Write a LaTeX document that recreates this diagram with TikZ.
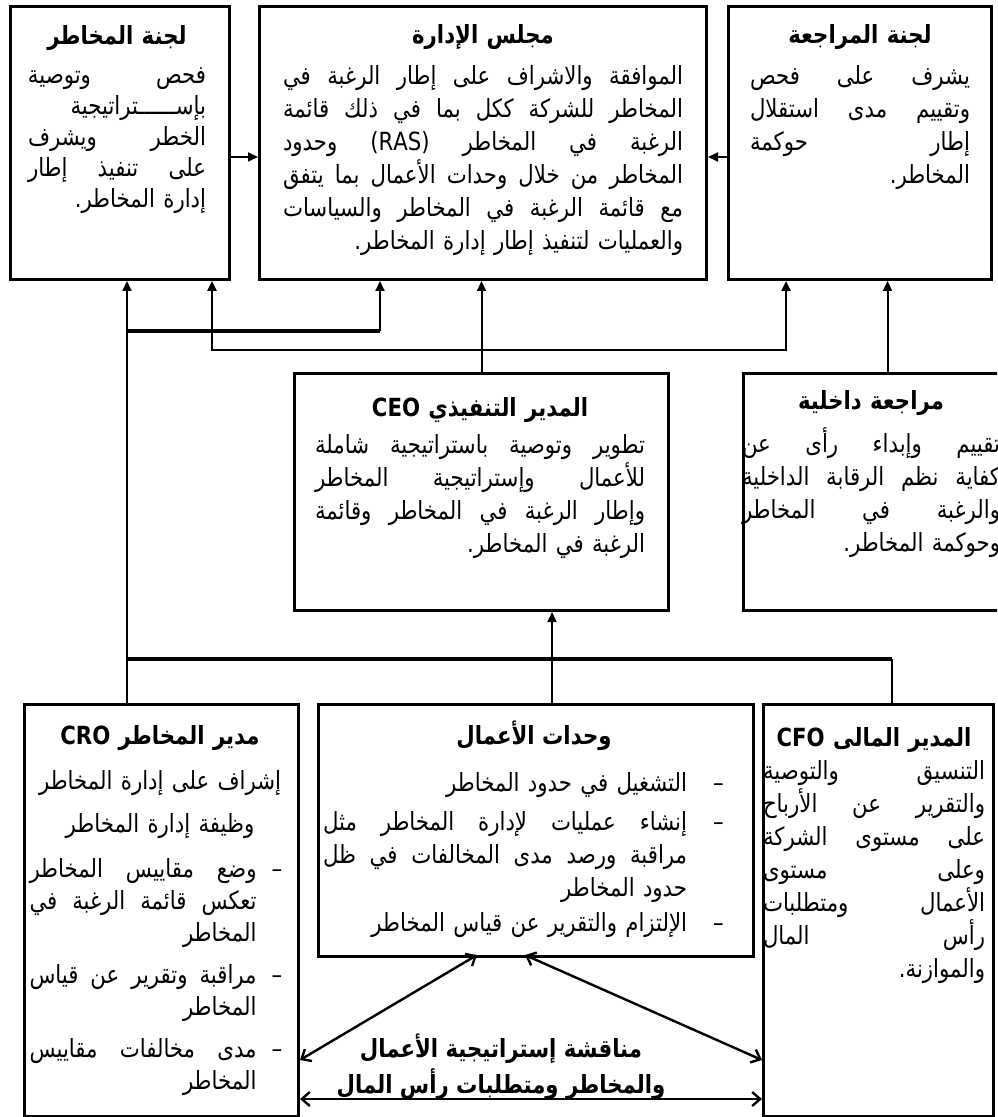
\documentclass[tikz,border=0pt]{standalone}
\usepackage{fontspec}
\usepackage{tikz}
\usetikzlibrary{arrows.meta,positioning,calc}
\newfontfamily\arabicfont[Script=Arabic,FakeStretch=0.85]{DejaVu Sans}
\TeXXeTstate=1
% one right-to-left line
\newcommand{\rl}[1]{\beginR #1\endR}
% one justified right-to-left line: \jl{\beginR ... \endR}, words put in visual order
\newtoks\jltoks
\newcount\jlcount
\def\jlgap{\hskip .25em plus 1fill\relax}
\def\jlpre#1{\edef\jltmp{\unexpanded{#1}\ifnum\jlcount>0 \noexpand\jlgap\fi\the\jltoks}%
  \jltoks\expandafter{\jltmp}\advance\jlcount 1\relax}
\def\jlscan#1 #2\jlend{\jlpre{#1}\if\relax\detokenize{#2}\relax\else\jlscan#2\jlend\fi}
\def\jlstrip\beginR#1\endR{\jltoks{}\jlcount=0 \jlscan#1 \jlend
  \makebox[\linewidth][s]{\hskip 0pt plus 1fil\the\jltoks}}
\newcommand{\jl}[1]{\jlstrip#1}
\newcommand{\hd}[1]{\makebox[\linewidth][c]{\bfseries\beginR #1\endR}}
\newcommand{\dashA}{\rlap{\hspace{7.5pt}–}}
\newcommand{\dashB}{\rlap{\hspace{13pt}–}}

\begin{document}
\begin{tikzpicture}[x=0.5pt,y=-0.5pt,>=Triangle,
  box/.style={draw,line width=1.5pt,inner sep=0pt,anchor=north west},
  txt/.style={font=\arabicfont\fontsize{12.5}{16.5}\selectfont,align=right,anchor=base,inner sep=0pt},
  conn/.style={line width=1pt},
  bar/.style={line width=1.6pt},
  arr/.style={-{Triangle[length=5pt,width=4.5pt]}},
  dbl/.style={line width=1.2pt,{Straight Barb[length=4pt,width=7pt]}-{Straight Barb[length=4pt,width=7pt]}}]
\clip (0,0) rectangle (997,1117);
\fill[white] (0,0) rectangle (997,1117);

% top row
\node[box,minimum width=109.5pt,minimum height=136.5pt] (rc) at (9,5) {};
\node[box,minimum width=223.5pt,minimum height=136.5pt] (bd) at (258,5) {};
\node[box,minimum width=131.5pt,minimum height=136.5pt] (ac) at (727,5) {};
\node[txt,text width=89pt,font=\arabicfont\fontsize{12.5}{15.5}\selectfont] (rctext) at (117,45) {%
\hd{لجنة المخاطر}\\[4pt]
\jl{\beginR فحص وتوصية\endR}\\
\jl{\beginR بإســــــتراتيجية\endR}\\
\jl{\beginR الخطر ويشرف\endR}\\
\jl{\beginR على تنفيذ إطار\endR}\\
\rl{إدارة المخاطر.}};
\node[txt,text width=200pt] (bdtext) at (483,44) {%
\hd{مجلس الإدارة}\\[4pt]
\jl{\beginR الموافقة والاشراف على إطار الرغبة في\endR}\\
\jl{\beginR المخاطر للشركة ككل بما في ذلك قائمة\endR}\\
\jl{\beginR الرغبة في المخاطر (RAS) وحدود\endR}\\
\jl{\beginR المخاطر من خلال وحدات الأعمال بما يتفق\endR}\\
\jl{\beginR مع قائمة الرغبة في المخاطر والسياسات\endR}\\
\rl{والعمليات لتنفيذ إطار إدارة المخاطر.}};
\node[txt,text width=110pt] (actext) at (860,44) {%
\hd{لجنة المراجعة}\\[4pt]
\jl{\beginR يشرف على فحص\endR}\\
\jl{\beginR وتقييم مدى استقلال\endR}\\
\jl{\beginR إطار حوكمة\endR}\\
\rl{المخاطر.}};

% middle row
\node[box,minimum width=187pt,minimum height=118.5pt] (ceo) at (293,372) {};
\node[box,minimum width=144pt,minimum height=118.5pt] (ia) at (742,372) {};
\node[txt,text width=165pt] (ceotext) at (480,416) {%
\hd{المدير التنفيذي CEO}\\[2pt]
\jl{\beginR تطوير وتوصية باستراتيجية شاملة\endR}\\
\jl{\beginR للأعمال وإستراتيجية المخاطر\endR}\\
\jl{\beginR وإطار الرغبة في المخاطر وقائمة\endR}\\
\rl{الرغبة في المخاطر.}};
\node[txt,text width=129pt] (iatext) at (871,409) {%
\hd{مراجعة داخلية}\\[5pt]
\jl{\beginR تقييم وإبداء رأى عن\endR}\\
\jl{\beginR كفاية نظم الرقابة الداخلية\endR}\\
\jl{\beginR والرغبة في المخاطر\endR}\\
\rl{وحوكمة المخاطر.}};

% bottom row
\node[box,minimum width=137pt,minimum height=206pt] (cro) at (23,703) {};
\node[box,minimum width=217.5pt,minimum height=126pt] (bu) at (317,703) {};
\node[box,minimum width=115pt,minimum height=206pt] (cfo) at (762,703) {};
\node[txt,text width=134pt,align=center,font=\arabicfont\fontsize{12.5}{21.5}\selectfont] (crohead) at (160,744) {%
\hd{مدير المخاطر CRO}\\[1pt]
\rl{إشراف على إدارة المخاطر}\\
\rl{وظيفة إدارة المخاطر}};
\node[txt,text width=113.5pt,font=\arabicfont\fontsize{12.5}{16}\selectfont] (crolist) at (143,877) {%
\jl{\beginR وضع مقاييس المخاطر\endR}\dashA\\
\jl{\beginR تعكس قائمة الرغبة في\endR}\\
\rl{المخاطر}\\[5pt]
\jl{\beginR مراقبة وتقرير عن قياس\endR}\dashA\\
\rl{المخاطر}\\[5pt]
\jl{\beginR مدى مخالفات مقاييس\endR}\dashA\\
\rl{المخاطر}};
\node[txt,font=\arabicfont\bfseries\fontsize{12.5}{16.5}\selectfont] (buhead) at (534,744) {\rl{وحدات الأعمال}};
\node[txt,text width=182pt] (bulist) at (505,791) {%
\rl{التشغيل في حدود المخاطر}\dashB\\[3pt]
\jl{\beginR إنشاء عمليات لإدارة المخاطر مثل\endR}\dashB\\
\jl{\beginR مراقبة ورصد مدى المخالفات في ظل\endR}\\
\rl{حدود المخاطر}\\[1pt]
\rl{الإلتزام والتقرير عن قياس المخاطر}\dashB};
\node[txt,text width=111pt] (cfotext) at (874,746) {%
\hd{المدير المالى CFO}\\
\jl{\beginR التنسيق والتوصية\endR}\\
\jl{\beginR والتقرير عن الأرباح\endR}\\
\jl{\beginR على مستوى الشركة\endR}\\
\jl{\beginR وعلى مستوى\endR}\\
\jl{\beginR الأعمال ومتطلبات\endR}\\
\jl{\beginR رأس المال\endR}\\
\rl{والموازنة.}};
\node[txt,align=center,font=\arabicfont\bfseries\fontsize{12.5}{18}\selectfont] (talk) at (501,1093) {%
\rl{مناقشة إستراتيجية الأعمال}\\
\rl{والمخاطر ومتطلبات رأس المال}};

% connectors
\coordinate (row) at (0,157);
\coordinate (tapA) at (127,331);
\coordinate (tapB) at (380,331);
\coordinate (linkL) at (212,350);
\coordinate (linkR) at (786,350);
\coordinate (busL) at (127,659);
\coordinate (busM) at (552,659);
\coordinate (busR) at (892,659);
\coordinate (fanL) at (477,955);
\coordinate (fanR) at (525,955);
\coordinate (lowA) at (0,1060);
\coordinate (lowB) at (0,1099);
\draw[conn,arr] (row -| rc.east) -- (row -| bd.west);
\draw[conn,arr] (row -| ac.west) -- (row -| bd.east);
\draw[conn,arr] (busL |- cro.north) -- (busL |- rc.south);
\draw[bar] (tapA) -- (tapB);
\draw[conn,arr] (tapB) -- (tapB |- bd.south);
\draw[line width=1.2pt,{Triangle[length=5pt,width=4.5pt]}-{Triangle[length=5pt,width=4.5pt]}]
  (linkL |- rc.south) -- (linkL) -- (linkR) -- (linkR |- ac.south);
\draw[conn,arr] (ceo.north) -- (ceo.north |- bd.south);
\draw[conn,arr] (ia.north) -- (ia.north |- ac.south);
\draw[bar] (busL) -- (busR);
\draw[conn] (busR) -- (busR |- cfo.north);
\draw[conn,arr] (busM |- bu.north) -- (busM |- ceo.south);
\draw[dbl] (fanL) -- (lowA -| cro.east);
\draw[dbl] (fanR) -- (lowA -| cfo.west);
\draw[dbl] (lowB -| cro.east) -- (lowB -| cfo.west);
\end{tikzpicture}
\end{document}
